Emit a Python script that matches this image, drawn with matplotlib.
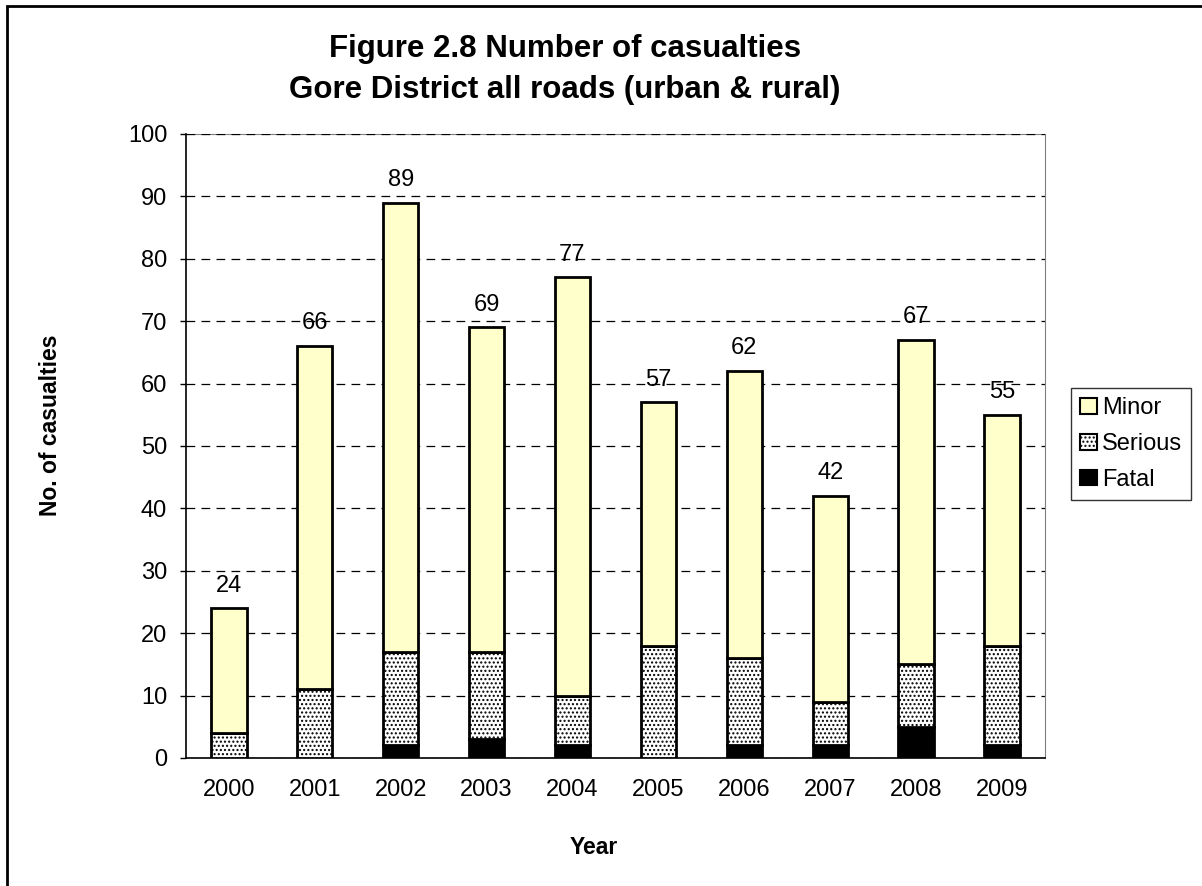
import matplotlib
matplotlib.use("Agg")
import matplotlib.pyplot as plt
from matplotlib.patches import Rectangle
import numpy as np

plt.rcParams['font.family'] = ['Liberation Sans', 'DejaVu Sans']
plt.rcParams['hatch.linewidth'] = 1.0

# data
years = ['2000', '2001', '2002', '2003', '2004', '2005', '2006', '2007', '2008', '2009']
fatal = [0, 0, 2, 3, 2, 0, 2, 2, 5, 2]
serious = [4, 11, 15, 14, 8, 18, 14, 7, 10, 16]
minor = [20, 55, 72, 52, 67, 39, 46, 33, 52, 37]

fig = plt.figure(figsize=(12.02, 8.86), dpi=100)
ax = fig.add_axes([0.1547, 0.1445, 0.7146, 0.7043])

x = np.arange(len(years))
w = 0.41
fatal = np.array(fatal)
serious = np.array(serious)
minor = np.array(minor)

b_fatal = ax.bar(x, fatal, w, color='black', edgecolor='black', linewidth=2, zorder=3, label='Fatal')
b_ser = ax.bar(x, serious, w, bottom=fatal, color='white', edgecolor='black', hatch='....',
               linewidth=2, zorder=3, label='Serious')
b_min = ax.bar(x, minor, w, bottom=fatal + serious, color='#FFFFCC', edgecolor='black',
               linewidth=2, zorder=3, label='Minor')

totals = fatal + serious + minor
for xi, t in zip(x, totals):
    ax.annotate(str(t), (xi, t), xytext=(0, 12), textcoords='offset points',
                ha='center', va='baseline', fontsize=17)

ax.set_xlim(-0.5, len(years) - 0.5)
ax.set_ylim(0, 100)
ax.set_yticks(range(0, 101, 10))
ax.set_xticks(x)
ax.set_xticklabels(years)
ax.tick_params(axis='y', labelsize=17, length=4.5, width=1, pad=9)
ax.tick_params(axis='x', labelsize=17, length=0, pad=15)

ax.set_axisbelow(True)
ax.yaxis.grid(True, color='black', linewidth=0.9, dashes=(7, 5))
ax.spines['top'].set_color('#808080')
ax.spines['top'].set_zorder(0.4)
ax.spines['right'].set_color('#808080')
ax.spines['left'].set_linewidth(1.2)
ax.spines['bottom'].set_linewidth(1.2)

fig.text(565 / 1202, 1 - 98 / 886, 'Figure 2.8 Number of casualties\nGore District all roads (urban & rural)',
         ha='center', va='baseline', fontsize=22.5, fontweight='bold', linespacing=1.5)
fig.text(51 / 1202, 1 - 425 / 886, 'No. of casualties', rotation=90, ha='center', va='center',
         fontsize=16.5, fontweight='bold')
fig.text(594 / 1202, 1 - 848 / 886, 'Year', ha='center', va='center', fontsize=16.5, fontweight='bold')

leg = ax.legend(handles=[b_min, b_ser, b_fatal], loc='upper left',
                bbox_to_anchor=(1071 / 1202, 1 - 388 / 886), bbox_transform=fig.transFigure,
                borderaxespad=0, fontsize=17, frameon=True, fancybox=False,
                handlelength=0.7, handleheight=0.65, handletextpad=0.2, labelspacing=0.58,
                borderpad=0.4)
leg.get_frame().set_edgecolor('black')
leg.get_frame().set_linewidth(1)
for h in leg.legend_handles:
    h.set_linewidth(1.5)

# outer chart border (cut off at right and bottom)
fig.add_artist(Rectangle((7 / 1202, -0.5), 2, 0.5 + (1 - 6 / 886), transform=fig.transFigure,
                         fill=False, edgecolor='black', linewidth=2))

fig.savefig('out.png', dpi=100)
